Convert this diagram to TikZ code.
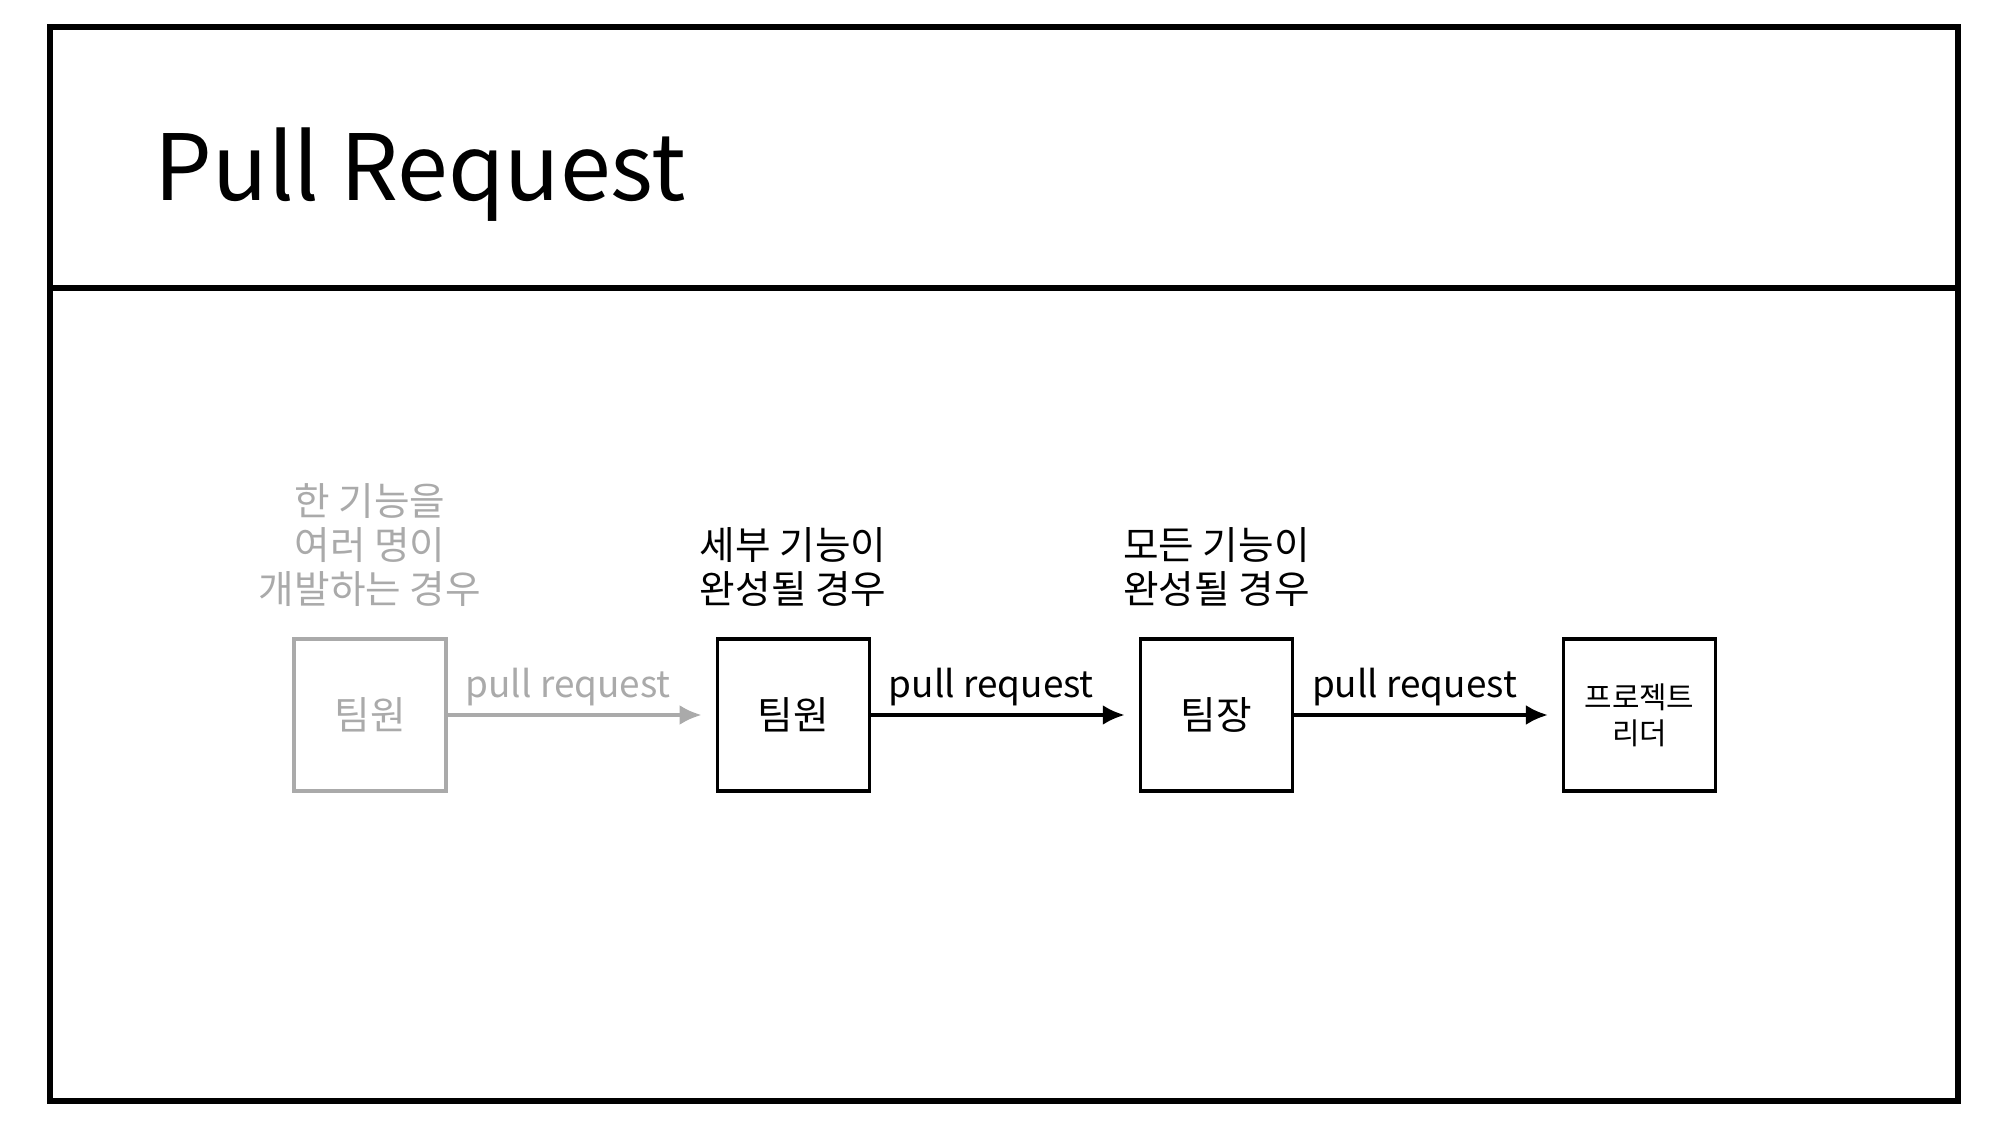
\documentclass[tikz,border=0pt]{standalone}
\usepackage{fontspec}
\setmainfont{Noto Sans CJK KR}
\usetikzlibrary{positioning,arrows.meta}
\definecolor{fadedgray}{RGB}{170,170,170}

\begin{document}
\begin{tikzpicture}[
		member/.style={draw, line width=0.9pt, minimum size=1.52cm, inner sep=0pt, font=\fontsize{11}{12}\selectfont},
		request/.style={line width=1.1pt, -{Latex[length=2.2mm,width=2mm]}, shorten >=1.4mm},
		caption/.style={align=center, inner sep=0pt, font=\fontsize{11}{12.5}\selectfont},
		reqlabel/.style={pos=0.45, above=0.7mm, inner sep=0pt, font=\fontsize{10.5}{12}\selectfont},
	]
		\useasboundingbox (0,0) rectangle (20,11.25);
		%slide frame with the title bar on top
		\draw[line width=1.9pt] (0.5,0.24) rectangle (19.58,10.98);
		\draw[line width=1.9pt] (0.5,8.37) -- (19.58,8.37);
		\node[anchor=base west, inner sep=0pt, font=\fontsize{26}{30}\selectfont] (title) at (1.54,9.24) {Pull Request};

		%the chain of people a request goes through
		\node[member, draw=fadedgray, text=fadedgray] (member1) at (3.70,4.10) {팀원};
		\node[member, right=2.68cm of member1] (member2) {팀원};
		\node[member, right=2.68cm of member2] (leader) {팀장};
		\node[member, right=2.68cm of leader, align=center, font=\fontsize{8.5}{10.2}\selectfont] (pl) {프로젝트\\리더};

		%when each step happens
		\node[caption, text=fadedgray, above=0.30cm of member1] (when1) {한 기능을\\여러 명이\\개발하는 경우};
		\node[caption, above=0.30cm of member2] (when2) {세부 기능이\\완성될 경우};
		\node[caption, above=0.30cm of leader] (when3) {모든 기능이\\완성될 경우};

		%the requests themselves
		\draw[request, draw=fadedgray] (member1.east) -- (member2.west) node[reqlabel, text=fadedgray] (req1) {pull request};
		\draw[request] (member2.east) -- (leader.west) node[reqlabel] (req2) {pull request};
		\draw[request] (leader.east) -- (pl.west) node[reqlabel] (req3) {pull request};
	\end{tikzpicture}
\end{document}
